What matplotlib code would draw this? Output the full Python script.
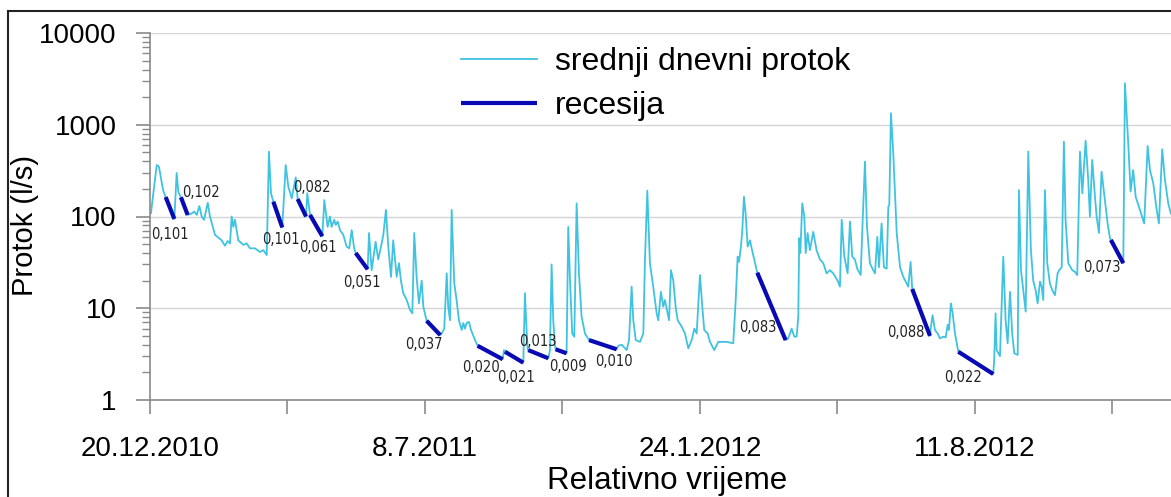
import matplotlib.pyplot as plt
from matplotlib.patches import Rectangle
from matplotlib.ticker import LogLocator, NullFormatter

# days since 20.12.2010, mean daily discharge (l/s)
flow_day = [
    0.7, 4.9, 6.5, 9.5, 11.4, 17.7, 19.4, 20.6, 22.5, 27.4,
    30.3, 32.2, 34.0, 35.9, 37.6, 39.3, 42.0, 43.6, 47.3, 52.1,
    54.5, 56.5, 58.2, 59.4, 60.6, 61.8, 64.2, 67.9, 70.3, 72.7,
    76.4, 80.0, 82.4, 84.9, 86.5, 88.0, 89.7, 96.2, 98.7, 100.6,
    103.1, 106.0, 107.4, 113.5, 114.4, 116.4, 125.3, 126.8, 129.2, 130.9,
    132.1, 134.0, 135.1, 136.5, 138.2, 140.6, 143.0, 144.9, 146.7, 148.5,
    149.6, 158.3, 159.3, 161.2, 164.1, 166.0, 168.5, 169.7, 171.6, 173.3,
    175.3, 176.9, 178.2, 179.4, 181.1, 182.5, 184.2, 186.7, 189.1, 190.8,
    192.2, 193.9, 195.6, 197.6, 198.8, 201.2, 211.1, 212.1, 214.0, 215.8,
    216.9, 218.2, 219.4, 221.3, 223.0, 224.7, 226.7, 227.9, 229.1, 230.3,
    232.0, 233.5, 236.4, 238.3, 256.5, 257.5, 258.2, 271.5, 272.7, 273.9,
    274.7, 275.1, 289.7, 290.9, 292.1, 293.3, 294.5, 295.0, 303.0, 304.2,
    305.5, 307.1, 308.6, 310.3, 312.0, 313.9, 316.4, 319.3, 339.4, 340.6,
    343.1, 345.5, 346.7, 348.4, 350.3, 351.5, 353.3, 356.4, 358.8, 360.0,
    361.7, 363.6, 366.0, 368.5, 369.7, 371.6, 373.3, 374.5, 376.5, 377.5,
    378.9, 380.6, 382.3, 383.8, 386.7, 389.1, 391.5, 394.0, 395.9, 397.6,
    400.0, 401.7, 403.1, 405.6, 407.3, 410.4, 413.3, 419.4, 424.2, 426.0,
    427.4, 428.4, 429.8, 430.8, 432.0, 433.2, 434.7, 436.4, 437.6, 439.5,
    441.7, 462.3, 464.2, 466.7, 468.6, 470.3, 471.5, 472.2, 473.0, 474.4,
    475.9, 476.9, 478.3, 480.0, 482.4, 484.8, 487.3, 489.7, 492.1, 494.5,
    496.9, 500.1, 501.8, 503.1, 505.0, 507.4, 509.1, 510.8, 512.7, 514.4,
    516.9, 518.0, 520.0, 521.5, 523.6, 526.0, 527.3, 529.0, 530.2, 532.1,
    533.8, 535.8, 537.0, 537.7, 538.9, 540.6, 543.1, 545.5, 547.9, 550.3,
    551.5, 553.2, 554.4, 567.3, 568.0, 569.2, 570.9, 572.9, 574.5, 577.0,
    578.7, 580.2, 581.1, 582.5, 583.8, 585.5, 587.4, 587.9, 613.3, 614.0,
    615.0, 615.8, 618.2, 620.6, 622.3, 623.8, 625.5, 627.1, 628.6, 631.1,
    632.0, 633.5, 635.1, 636.9, 638.8, 640.7, 642.4, 644.1, 645.6, 647.3,
    648.5, 649.7, 650.9, 652.6, 654.5, 656.2, 658.2, 660.1, 661.3, 663.1,
    664.7, 665.9, 667.9, 670.8, 672.7, 674.4, 676.4, 678.1, 680.5, 682.4,
    683.6, 685.3, 687.3, 688.5, 690.2, 692.1, 694.5, 696.5, 698.2, 698.9,
    707.9, 709.1, 711.5, 713.2, 715.1, 716.9, 720.0, 723.1, 725.6, 727.3,
    729.7, 732.2, 733.8, 736.2, 738.2, 740.6, 742.5,
]
flow_val = [
    109, 364, 349, 194, 163, 94, 298, 186, 162, 104,
    108, 113, 104, 130, 100, 92, 141, 100, 63, 55,
    48, 54, 51, 100, 77, 92, 55, 49, 51, 45,
    45, 41, 43, 38, 509, 179, 145, 76, 364, 211,
    158, 267, 155, 100, 179, 104, 61, 151, 77, 100,
    77, 92, 81, 88, 71, 63, 47, 45, 71, 45,
    40, 26.6, 66, 26, 53, 34, 51, 63, 118, 47,
    22, 55, 34, 22, 31, 20, 14.6, 12.3, 9.6, 8.8,
    66, 22, 11.3, 20, 10.4, 7.3, 5.1, 5.3, 6.0, 24,
    10.4, 7.4, 118, 18.7, 12.3, 7.4, 5.8, 6.9, 6.0, 6.9,
    7.1, 5.8, 4.5, 3.9, 2.78, 3.5, 3.36, 2.55, 14.6, 5.8,
    3.57, 3.5, 2.85, 3.5, 30, 7.4, 4.0, 3.57, 3.23, 77,
    20, 5.3, 4.9, 139, 24, 8.1, 5.3, 4.5, 3.57, 3.9,
    4.0, 3.66, 3.5, 4.5, 17.2, 7.4, 4.5, 4.3, 5.3, 34,
    191, 31, 17.2, 8.8, 7.4, 15.1, 10.4, 12.3, 8.8, 7.4,
    26, 20, 10.4, 7.4, 6.3, 5.3, 3.66, 4.5, 6.0, 5.3,
    23, 10.4, 5.8, 5.3, 4.3, 3.5, 4.3, 4.3, 4.15, 12.3,
    36.5, 32, 47, 71, 164, 108, 47, 55, 45, 34,
    24.4, 4.5, 4.7, 6.0, 4.9, 4.9, 8.1, 58, 40, 139,
    100, 40, 66, 43, 68, 43, 34, 31, 24, 26,
    24, 20, 17.2, 92, 36.5, 24, 88, 36.5, 34, 27,
    23, 66, 396, 77, 31, 26, 24, 60, 28, 84,
    28, 27, 128, 133, 1334, 489, 66, 28, 22, 18.7,
    17.2, 32, 16.2, 5.0, 6.3, 8.4, 5.8, 5.3, 4.7, 4.9,
    4.8, 6.6, 5.8, 11.3, 8.8, 5.3, 3.66, 3.36, 1.92, 2.73,
    8.8, 3.5, 3.0, 36.5, 7.4, 4.15, 15.1, 5.3, 3.23, 3.1,
    194, 26, 15.8, 9.2, 509, 43, 20, 15.8, 11.3, 19.5,
    17.2, 12.3, 194, 31, 18.7, 15.8, 13.9, 24, 26, 28,
    653, 92, 31, 26, 25, 23, 509, 179, 670, 250,
    100, 413, 164, 100, 66, 308, 151, 84, 58, 55.5,
    31, 2830, 628, 187, 321, 164, 118, 84, 587, 321,
    230, 118, 84, 540, 250, 139, 108,
]

# recession segments (start/end day, start/end discharge) and coefficients
rec_start_day = [11.4, 22.5, 89.7, 107.4, 116.4, 149.6, 201.2, 238.3,
                 258.2, 275.1, 295.0, 319.3, 441.7, 554.4, 587.9, 698.9]
rec_end_day = [17.7, 27.4, 96.2, 113.5, 125.3, 158.3, 211.1, 256.5,
               271.5, 289.7, 303.0, 339.4, 462.3, 567.3, 613.3, 707.9]
rec_start_val = [163, 162, 145, 155, 104, 40, 7.3, 3.9,
                 3.36, 3.5, 3.57, 4.5, 24.4, 16.2, 3.36, 55.5]
rec_end_val = [94, 104, 76, 100, 61, 26.6, 5.1, 2.78,
               2.55, 2.85, 3.23, 3.57, 4.5, 5.0, 1.92, 31]
rec_labels = ["0,101", "0,102", "0,101", "0,082", "0,061", "0,051", "0,037", "0,020",
              "0,021", "0,013", "0,009", "0,010", "0,083", "0,088", "0,022", "0,073"]

tick_days = [0, 200, 400, 600]
tick_labels = ["20.12.2010", "8.7.2011", "24.1.2012", "11.8.2012"]

# label offsets from segment midpoints (pixels)
label_offsets = [(0, -27), (17, 14), (3, -25), (10, 20), (2, -22), (0, -21), (-10, -17), (-9, -15),
                 (2, -20), (0, 13), (7, -15), (11, -17), (-14, -21), (-15, -20), (-13, -15), (-15, -16)]

plt.rcParams['font.family'] = ['Liberation Sans', 'DejaVu Sans']

fig = plt.figure(figsize=(11.71, 4.97), dpi=100)
ax = fig.add_axes([150 / 1171, 97 / 497, 1021 / 1171, 367 / 497])

light = "#3FC3E0"
dark = "#0A0AB4"

ax.plot(flow_day, flow_val, color=light, lw=1.3, label="srednji dnevni protok")
for i in range(len(rec_labels)):
    ax.plot([rec_start_day[i], rec_end_day[i]], [rec_start_val[i], rec_end_val[i]],
            color=dark, lw=3, solid_capstyle="butt",
            label="recesija" if i == 0 else None)
    mx = (rec_start_day[i] + rec_end_day[i]) / 2
    my = (rec_start_val[i] * rec_end_val[i]) ** 0.5
    ax.annotate(rec_labels[i], (mx, my), xytext=label_offsets[i], textcoords="offset pixels",
                ha="center", va="center", fontsize=10.5, color="#222222",
                family="DejaVu Sans", fontstretch="condensed")

ax.set_yscale("log")
ax.set_ylim(1, 10000)
ax.set_xlim(0, 742.6)

ax.yaxis.set_minor_locator(LogLocator(base=10, subs=range(2, 10), numticks=10))
ax.yaxis.set_minor_formatter(NullFormatter())
ax.set_yticks([1, 10, 100, 1000, 10000])
ax.set_yticklabels(["1", "10", "100", "1000", "10000"])

ax.set_xticks(range(0, 800, 100))
ax.set_xticklabels([tick_labels[tick_days.index(d)] if d in tick_days else "" for d in range(0, 800, 100)])

ax.grid(axis="y", which="major", color="#d4d4d4", lw=1)
ax.set_axisbelow(True)

for s in ["top", "right"]:
    ax.spines[s].set_visible(False)
for s in ["left", "bottom"]:
    ax.spines[s].set_color("#8a8a8a")
    ax.spines[s].set_linewidth(1.2)

ax.tick_params(axis="both", which="major", color="#8a8a8a", length=10, width=1.2, labelsize=20)
ax.tick_params(axis="y", which="minor", color="#8a8a8a", length=6, width=1)
ax.tick_params(axis="x", pad=16)
ax.tick_params(axis="y", pad=14)

fig.text(667 / 1171, 8 / 497, "Relativno vrijeme", ha="center", va="baseline", fontsize=22.5)
fig.text(25 / 1171, 1 - 225 / 497, "Protok (l/s)", rotation=90, ha="center", va="center", fontsize=21)

ax.legend(loc="upper left", bbox_to_anchor=(432 / 1171, 1 - 18 / 497), bbox_transform=fig.transFigure,
          frameon=False, fontsize=23, handlelength=2.4, handletextpad=0.55, labelspacing=0.45)

fig.patches.append(Rectangle((8 / 1171, -0.1), 1.2, 1 - 11 / 497 + 0.1, transform=fig.transFigure,
                             fill=False, edgecolor="#222222", lw=1.5))

plt.savefig("out.png", dpi=100)
